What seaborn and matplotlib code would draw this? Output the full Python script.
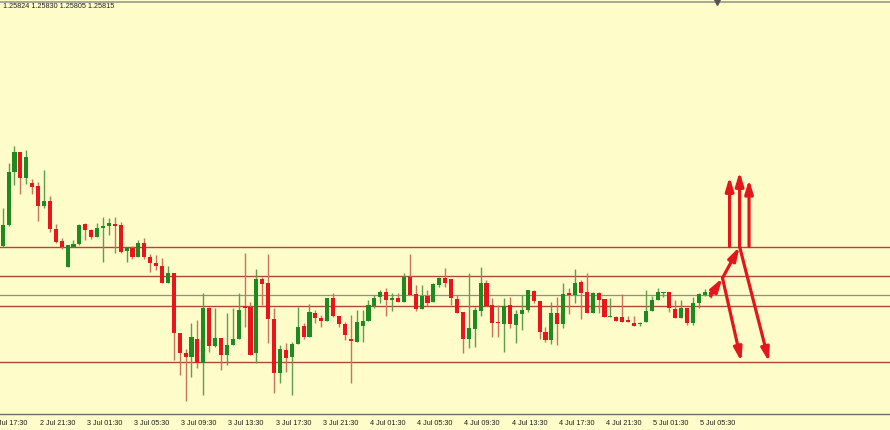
import numpy as np
import pandas as pd
import matplotlib
matplotlib.use("Agg")
import matplotlib.pyplot as plt
import matplotlib.transforms as mtransforms
import seaborn as sns

# ---------------- data (GBPUSD M30) ----------------
opens = [1.25962, 1.26025, 1.26184, 1.26244, 1.26166, 1.26151, 1.26142, 1.26082, 1.26097, 1.26013,
         1.25977, 1.25899, 1.25959, 1.25968, 1.26028, 1.26010, 1.25989, 1.26016, 1.26022, 1.26028,
         1.26025, 1.25947, 1.25956, 1.25929, 1.25971, 1.25929, 1.25911, 1.25902, 1.25851, 1.25881,
         1.25701, 1.25641, 1.25629, 1.25683, 1.25611, 1.25776, 1.25662, 1.25686, 1.25635, 1.25665,
         1.25683, 1.25782, 1.25779, 1.25641, 1.25863, 1.25851, 1.25743, 1.25581, 1.25650, 1.25629,
         1.25668, 1.25722, 1.25689, 1.25761, 1.25746, 1.25737, 1.25806, 1.25752, 1.25728, 1.25683,
         1.25674, 1.25722, 1.25737, 1.25782, 1.25809, 1.25824, 1.25800, 1.25806, 1.25794, 1.25869,
         1.25818, 1.25773, 1.25812, 1.25794, 1.25845, 1.25866, 1.25863, 1.25803, 1.25764, 1.25683,
         1.25713, 1.25767, 1.25851, 1.25785, 1.25734, 1.25728, 1.25785, 1.25725, 1.25758, 1.25770,
         1.25827, 1.25797, 1.25704, 1.25680, 1.25761, 1.25728, 1.25821, 1.25815, 1.25854, 1.25824,
         1.25761, 1.25821, 1.25803, 1.25749, 1.25749, 1.25749, 1.25740, 1.25731, 1.25728, 1.25734,
         1.25767, 1.25800, 1.25821, 1.25824, 1.25773, 1.25746, 1.25776, 1.25731, 1.25791, 1.25815,
         1.25824]
highs = [1.26076, 1.26211, 1.26262, 1.26244, 1.26250, 1.26163, 1.26154, 1.26190, 1.26112, 1.26028,
         1.25986, 1.25965, 1.25980, 1.26028, 1.26031, 1.26013, 1.26031, 1.26049, 1.26046, 1.26049,
         1.26034, 1.25956, 1.25962, 1.25980, 1.25986, 1.25938, 1.25935, 1.25926, 1.25902, 1.25881,
         1.25701, 1.25653, 1.25731, 1.25740, 1.25821, 1.25779, 1.25776, 1.25686, 1.25761, 1.25776,
         1.25821, 1.25941, 1.25794, 1.25893, 1.25869, 1.25938, 1.25776, 1.25665, 1.25671, 1.25674,
         1.25779, 1.25731, 1.25788, 1.25770, 1.25755, 1.25806, 1.25821, 1.25752, 1.25734, 1.25755,
         1.25770, 1.25770, 1.25800, 1.25815, 1.25830, 1.25836, 1.25821, 1.25821, 1.25881, 1.25938,
         1.25845, 1.25845, 1.25830, 1.25851, 1.25869, 1.25896, 1.25863, 1.25815, 1.25764, 1.25881,
         1.25779, 1.25899, 1.25860, 1.25806, 1.25785, 1.25806, 1.25809, 1.25770, 1.25815, 1.25830,
         1.25830, 1.25797, 1.25719, 1.25794, 1.25809, 1.25851, 1.25836, 1.25893, 1.25860, 1.25881,
         1.25824, 1.25824, 1.25803, 1.25806, 1.25752, 1.25818, 1.25752, 1.25752, 1.25734, 1.25830,
         1.25812, 1.25836, 1.25824, 1.25824, 1.25800, 1.25800, 1.25776, 1.25809, 1.25821, 1.25833,
         1.25830]
lows = [1.25959, 1.26022, 1.26145, 1.26118, 1.26148, 1.26118, 1.26037, 1.26076, 1.26004, 1.25971,
        1.25953, 1.25899, 1.25959, 1.25965, 1.25980, 1.25983, 1.25989, 1.25914, 1.25995, 1.25941,
        1.25941, 1.25914, 1.25923, 1.25929, 1.25923, 1.25884, 1.25890, 1.25851, 1.25851, 1.25620,
        1.25575, 1.25497, 1.25569, 1.25596, 1.25515, 1.25644, 1.25659, 1.25590, 1.25605, 1.25665,
        1.25683, 1.25719, 1.25635, 1.25611, 1.25785, 1.25671, 1.25521, 1.25551, 1.25584, 1.25515,
        1.25668, 1.25683, 1.25689, 1.25731, 1.25719, 1.25737, 1.25749, 1.25719, 1.25680, 1.25551,
        1.25674, 1.25674, 1.25737, 1.25776, 1.25791, 1.25752, 1.25767, 1.25794, 1.25794, 1.25815,
        1.25767, 1.25773, 1.25782, 1.25794, 1.25839, 1.25839, 1.25785, 1.25761, 1.25641, 1.25656,
        1.25659, 1.25752, 1.25782, 1.25689, 1.25689, 1.25644, 1.25716, 1.25671, 1.25710, 1.25764,
        1.25791, 1.25683, 1.25674, 1.25668, 1.25665, 1.25716, 1.25758, 1.25791, 1.25743, 1.25761,
        1.25761, 1.25761, 1.25749, 1.25749, 1.25737, 1.25734, 1.25734, 1.25722, 1.25722, 1.25734,
        1.25767, 1.25800, 1.25809, 1.25764, 1.25746, 1.25746, 1.25725, 1.25725, 1.25776, 1.25812,
        1.25805]
closes = [1.26025, 1.26184, 1.26244, 1.26166, 1.26229, 1.26139, 1.26082, 1.26097, 1.26013, 1.25974,
          1.25959, 1.25965, 1.25968, 1.26025, 1.26010, 1.25989, 1.26016, 1.26022, 1.26031, 1.26022,
          1.25944, 1.25956, 1.25929, 1.25971, 1.25929, 1.25911, 1.25902, 1.25851, 1.25881, 1.25701,
          1.25641, 1.25629, 1.25689, 1.25611, 1.25776, 1.25662, 1.25686, 1.25635, 1.25665, 1.25683,
          1.25770, 1.25776, 1.25635, 1.25863, 1.25848, 1.25743, 1.25581, 1.25653, 1.25626, 1.25668,
          1.25719, 1.25689, 1.25764, 1.25746, 1.25737, 1.25806, 1.25752, 1.25728, 1.25695, 1.25677,
          1.25734, 1.25737, 1.25785, 1.25806, 1.25824, 1.25800, 1.25806, 1.25794, 1.25869, 1.25815,
          1.25773, 1.25812, 1.25791, 1.25848, 1.25866, 1.25851, 1.25806, 1.25761, 1.25683, 1.25716,
          1.25770, 1.25851, 1.25782, 1.25731, 1.25731, 1.25782, 1.25728, 1.25758, 1.25770, 1.25830,
          1.25797, 1.25704, 1.25680, 1.25761, 1.25728, 1.25818, 1.25815, 1.25851, 1.25821, 1.25761,
          1.25821, 1.25800, 1.25749, 1.25752, 1.25737, 1.25734, 1.25734, 1.25722, 1.25731, 1.25767,
          1.25800, 1.25824, 1.25824, 1.25776, 1.25746, 1.25776, 1.25731, 1.25791, 1.25818, 1.25824,
          1.25815]

tick_pos = [-2, 6, 14, 22, 30, 38, 46, 54, 62, 70, 78, 86, 94, 102, 110, 118]
tick_labels = ["2 Jul 17:30", "2 Jul 21:30", "3 Jul 01:30", "3 Jul 05:30", "3 Jul 09:30",
               "3 Jul 13:30", "3 Jul 17:30", "3 Jul 21:30", "4 Jul 01:30", "4 Jul 05:30",
               "4 Jul 09:30", "4 Jul 13:30", "4 Jul 17:30", "4 Jul 21:30", "5 Jul 01:30",
               "5 Jul 05:30"]

levels = [1.25960, 1.25871, 1.25782, 1.25613]   # drawn horizontal lines
bid_level = 1.25815                               # grey bid line
header = "1.25824 1.25830 1.25805 1.25815"

# projection arrows: (x0, y0, x1, y1) in bar index / price
arrows = [
    (120.0, 1.25812, 122.0, 1.25866),
    (122.0, 1.25866, 124.9, 1.25960),
    (123.2, 1.25960, 123.2, 1.26170),
    (124.9, 1.25960, 124.9, 1.26185),
    (126.5, 1.25960, 126.5, 1.26162),
    (122.0, 1.25866, 125.2, 1.25615),
    (124.9, 1.25960, 129.9, 1.25614),
]

# ---------------- drawing ----------------
sns.set_style("white")
plt.rcParams["font.family"] = ["Liberation Sans", "DejaVu Sans"]

BG = "#fefcc9"
UP, DOWN = "#1f8a1f", "#e8161b"
UP_WICK, DOWN_WICK = "#5f9f4c", "#c9745c"

df = pd.DataFrame({"open": opens, "high": highs, "low": lows, "close": closes})
df["idx"] = np.arange(len(df))
df["up"] = df["close"] >= df["open"]

fig = plt.figure(figsize=(8.9, 4.3), dpi=100, facecolor=BG)
ax = fig.add_axes([-15 / 890, 16 / 430, 905 / 890, 412 / 430])
ax.set_facecolor(BG)

# horizontal levels
for lv in levels:
    ax.axhline(lv, color="#b0463a", lw=1.0, zorder=1)
ax.axhline(bid_level, color="#8f8f86", lw=0.9, zorder=1)

# wicks
wick_cols = np.where(df["up"], UP_WICK, DOWN_WICK)
ax.vlines(df["idx"], df["low"], df["high"], colors=wick_cols, lw=1.0, zorder=2)

# bodies
body_bottom = np.minimum(df["open"], df["close"])
body_h = np.maximum(np.abs(df["close"] - df["open"]), 0.000012)
body_cols = np.where(df["up"], UP, DOWN)
ax.bar(df["idx"], body_h, bottom=body_bottom, width=0.68, color=body_cols,
       edgecolor="none", zorder=3)

# arrows
for x0, y0, x1, y1 in arrows:
    ax.annotate("", xy=(x1, y1), xytext=(x0, y0),
                arrowprops=dict(arrowstyle="-|>,head_length=0.8,head_width=0.24",
                                color="#e2171b", lw=2.3, shrinkA=0, shrinkB=0,
                                mutation_scale=10),
                zorder=5)

ax.set_xlim(-3.0, 150.39)
ax.set_ylim(1.25458, 1.26694)

ax.set_xticks(tick_pos)
ax.set_xticklabels(tick_labels)
ax.set_yticks([])
ax.tick_params(axis="x", direction="out", length=2.5, width=0.8, color="#505050",
               pad=1.5, labelsize=5.2, labelcolor="#202020")
offset = mtransforms.ScaledTranslation(1.5 / 100, 0, fig.dpi_scale_trans)
for lab in ax.get_xticklabels():
    lab.set_ha("left")
    lab.set_transform(lab.get_transform() + offset)

for side in ("left", "right"):
    ax.spines[side].set_visible(False)
ax.spines["bottom"].set_color("#6e6e6e")
ax.spines["bottom"].set_linewidth(1.0)
ax.spines["top"].set_color("#9a9a92")
ax.spines["top"].set_linewidth(1.2)

# header text (OHLC of last bar)
fig.text(3 / 890, 1 - 7 / 430, header, fontsize=5.2, color="#202020",
         ha="left", va="center")

# chart-shift marker at the top
ax.plot([121.0], [1.0], marker="v", markersize=4, color="#555555",
        transform=mtransforms.blended_transform_factory(ax.transData, ax.transAxes),
        clip_on=False, zorder=6)

fig.savefig("out.png", dpi=100, facecolor=BG)
